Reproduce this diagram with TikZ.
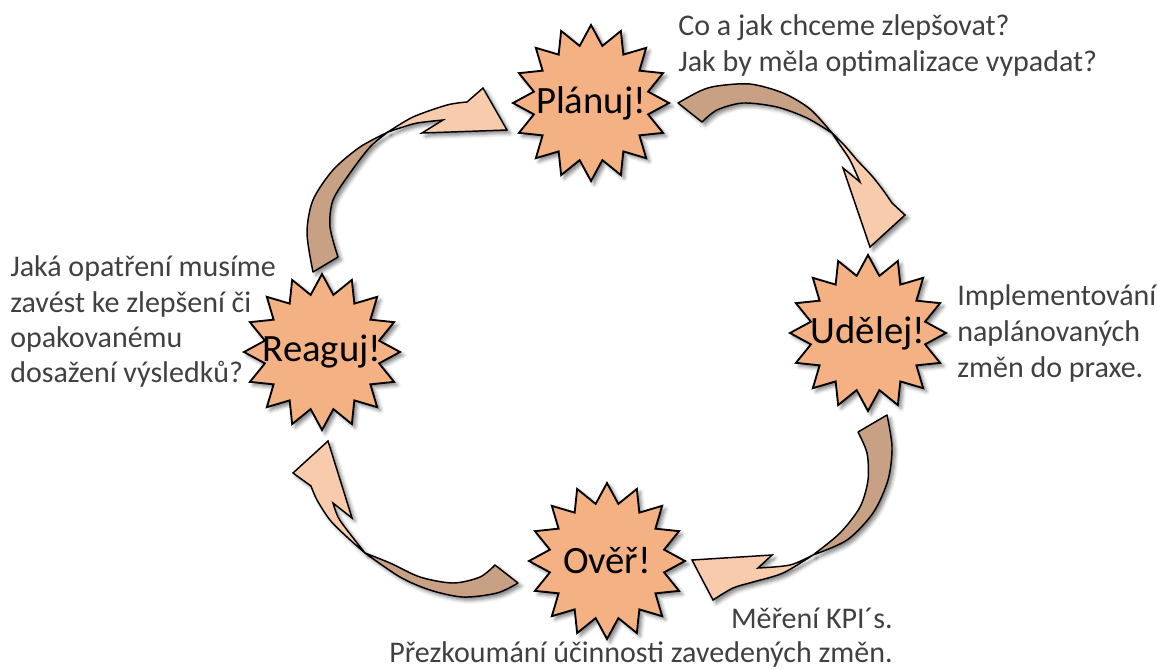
\documentclass[tikz,border=0pt]{standalone}
\usepackage{fontspec}
\setmainfont{Carlito}
\usetikzlibrary{shapes.geometric,shadows.blur}
\definecolor{starfill}{HTML}{F4B183}
\definecolor{arrowfront}{HTML}{F8CBAD}
\definecolor{arrowback}{HTML}{C8A084}
\definecolor{textgray}{HTML}{404040}
\begin{document}
\begin{tikzpicture}[x=0.75pt,y=-0.75pt,
  softshadow/.style={blur shadow={shadow xshift=2.4pt,shadow yshift=-2.4pt,shadow blur radius=2.8pt,shadow opacity=50}},
  burst/.style={star,star points=16,star point ratio=1.34,minimum size=117pt,inner sep=0pt,
    fill=starfill,draw=black,line width=1.4pt,softshadow,
    label={[font=\fontsize{29}{31}\selectfont,inner sep=0pt]center:#1}},
  backface/.style={fill=arrowback,draw=black,line width=1.1pt,line join=round,softshadow},
  frontface/.style={fill=arrowfront,draw=black,line width=1.1pt,line join=miter,softshadow},
  note/.style={text=textgray,font=\fontsize{22.5}{27}\selectfont,inner sep=0pt}]
\useasboundingbox (0,0) rectangle (1157,669);

% twisted arrow: Plánuj -> Udělej
\path[backface] (678,103) -- plot[smooth] coordinates {(678,103) (700,91) (717,86) (750,84) (783,93) (810,109) (832,133)}
  -- plot[smooth] coordinates {(832,133) (807,118) (777,107) (743,103) (717,110) (702,122)} -- cycle;
\path[frontface] (832,133) -- plot[smooth] coordinates {(832,133) (845,146) (857,160) (872,176) (883,190) (892,203)}
  -- (905,215) -- (870,247) -- (843,168) -- (860,182)
  -- plot[smooth] coordinates {(860,182) (850,160) (840,145) (832,133)} -- cycle;

% twisted arrow: Udělej -> Ověř
\path[backface] (887,415) -- plot[smooth] coordinates {(887,415) (892,447) (888,480) (873,513) (847,540) (813,555)}
  -- plot[smooth] coordinates {(813,555) (840,533) (860,507) (868,480) (867,453) (858,432)} -- cycle;
\path[frontface] (813,555) -- plot[smooth] coordinates {(813,555) (790,565) (758,568)}
  -- (772,555) -- (692,560) -- (713,600)
  -- plot[smooth] coordinates {(713,600) (733,588) (753,582) (783,573) (813,555)} -- cycle;

% twisted arrow: Ověř -> Reaguj
\path[backface] (495,565) -- (518,583) -- plot[smooth] coordinates {(518,583) (497,593) (463,597) (430,590) (400,577) (365,553)}
  -- plot[smooth] coordinates {(365,553) (390,563) (420,577) (453,583) (480,577) (495,565)} -- cycle;
\path[frontface] (365,553) -- plot[smooth] coordinates {(365,553) (347,537) (330,520) (317,500) (311,486)}
  -- (293,473) -- (328,441) -- (352,518) -- (333,503)
  -- plot[smooth] coordinates {(333,503) (338,517) (347,530) (365,553)} -- cycle;

% twisted arrow: Reaguj -> Plánuj
\path[backface] (313,272) -- plot[smooth] coordinates {(313,272) (307,233) (313,200) (333,170) (360,147) (388,132)}
  -- plot[smooth] coordinates {(388,132) (370,147) (350,173) (333,200) (330,227) (338,257)} -- cycle;
\path[frontface] (388,132) -- plot[smooth] coordinates {(388,132) (413,117) (447,105) (467,102)}
  -- (483,88) -- (507,130) -- (422,133) -- (443,120)
  -- plot[smooth] coordinates {(443,120) (417,123) (400,128) (388,132)} -- cycle;

% the four steps of the cycle
\node[burst=Plánuj!] (plan) at (591,103) {};
\node[burst=Udělej!] (do) at (868,333) {};
\node[burst=Ověř!] (check) at (607,561) {};
\node[burst=Reaguj!] (act) at (322,352) {};

% explanatory notes
\node[note,anchor=base west] (plan1) at (678,35) {Co a jak chceme zlepšovat?};
\node[note,anchor=base west] (plan2) at (678,71) {Jak by měla optimalizace vypadat?};
\node[note,anchor=base west] (do1) at (957,305) {Implementování};
\node[note,anchor=base west] (do2) at (957,341) {naplánovaných};
\node[note,anchor=base west] (do3) at (957,377) {změn do praxe.};
\node[note,anchor=base east] (check1) at (893,628) {Měření KPI´s.};
\node[note,anchor=base east] (check2) at (893,662) {Přezkoumání účinnosti zavedených změn.};
\node[note,anchor=base west] (act1) at (10,276) {Jaká opatření musíme};
\node[note,anchor=base west] (act2) at (10,312) {zavést ke zlepšení či};
\node[note,anchor=base west] (act3) at (10,347) {opakovanému};
\node[note,anchor=base west] (act4) at (10,382) {dosažení výsledků?};
\end{tikzpicture}
\end{document}
